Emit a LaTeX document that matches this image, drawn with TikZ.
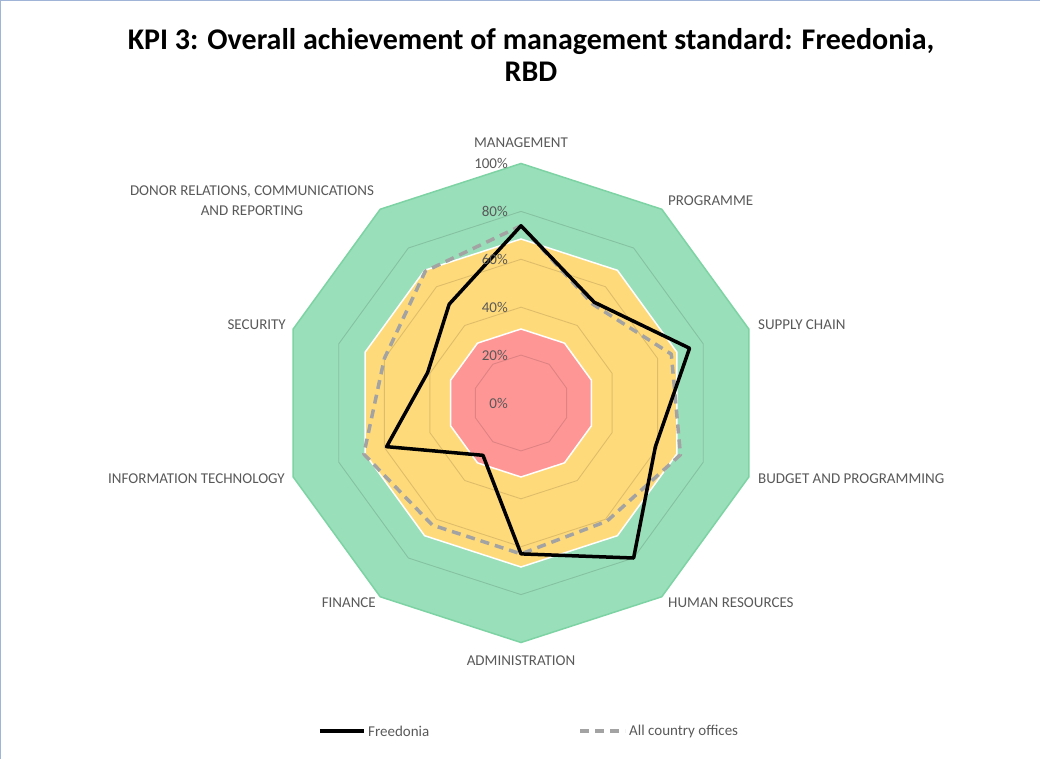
\documentclass[tikz,border=0pt]{standalone}
\usepackage{fontspec}
\setmainfont{Carlito}
\definecolor{zonegreen}{RGB}{153,223,186}
\definecolor{zonegreenline}{RGB}{125,211,163}
\definecolor{zoneyellow}{RGB}{255,218,122}
\definecolor{zonepink}{RGB}{255,150,150}
\definecolor{labelgray}{RGB}{89,89,89}
\definecolor{avggray}{RGB}{163,163,163}
\definecolor{framecol}{RGB}{160,180,215}
\tikzset{
	axislabel/.style={text=labelgray, font=\fontsize{15}{20}\selectfont, inner sep=0pt, align=center},
	gridring/.style={draw=black, draw opacity=0.13, line width=0.9pt},
	kpiline/.style={draw=black, line width=3.5pt, line join=round},
	avgline/.style={draw=avggray, line width=3.5pt, dash pattern=on 9pt off 6pt, line join=round},
	frameline/.style={draw=framecol, line width=1pt}
}
\begin{document}
\begin{tikzpicture}[x=1pt, y=1pt]
	\useasboundingbox (-521,-356) rectangle (519,403);
	\draw[frameline] (-520.5,-356) -- (-520.5,402.5) -- (519,402.5);

	\filldraw[fill=zonegreen, draw=zonegreenline, line width=1.5pt] (90:239.5) \foreach \k in {1,...,9}{ -- (90-36*\k:239.5)} -- cycle;
	\filldraw[fill=zoneyellow, draw=white, line width=1.5pt] (90:164) \foreach \k in {1,...,9}{ -- (90-36*\k:164)} -- cycle;
	\filldraw[fill=zonepink, draw=white, line width=1.5pt] (90:74) \foreach \k in {1,...,9}{ -- (90-36*\k:74)} -- cycle;
	\foreach \r in {47.9,95.8,143.7,191.6}
		\draw[gridring] (90:\r) \foreach \k in {1,...,9}{ -- (90-36*\k:\r)} -- cycle;

	\foreach \k/\v in {0/74,1/52,2/74,3/59,4/80,5/63,6/27,7/59,8/41,9/51}
		\coordinate (f\k) at (90-36*\k:2.395*\v);
	\foreach \k/\v in {0/74,1/51,2/66,3/70,4/61,5/63,6/63,7/69,8/60,9/68}
		\coordinate (a\k) at (90-36*\k:2.395*\v);

	\draw[avgline] (a0) -- (a1) -- (a2) -- (a3) -- (a4) -- (a5) -- (a6) -- (a7) -- (a8) -- (a9) -- cycle;
	\draw[kpiline] (f0) -- (f1) -- (f2) -- (f3) -- (f4) -- (f5) -- (f6) -- (f7) -- (f8) -- (f9) -- cycle;

	\foreach \p in {0,20,...,100}
		\node[axislabel, anchor=east] (pct\p) at (-13,2.395*\p) {\p\%};

	\node[axislabel] (management) at (0,260) {MANAGEMENT};
	\node[axislabel, anchor=west] (programme) at (147,202) {PROGRAMME};
	\node[axislabel, anchor=west] (supply) at (237,78) {SUPPLY CHAIN};
	\node[axislabel, anchor=west] (budget) at (237,-76) {BUDGET AND PROGRAMMING};
	\node[axislabel, anchor=west] (hr) at (147,-200) {HUMAN RESOURCES};
	\node[axislabel] (admin) at (0,-258) {ADMINISTRATION};
	\node[axislabel, anchor=east] (finance) at (-145,-200) {FINANCE};
	\node[axislabel, anchor=east] (it) at (-236,-76) {INFORMATION TECHNOLOGY};
	\node[axislabel, anchor=east] (security) at (-235,78) {SECURITY};
	\node[axislabel] (donor) at (-269,202) {DONOR RELATIONS, COMMUNICATIONS\\AND REPORTING};

	\node[align=center, inner sep=0pt, font=\bfseries\fontsize{30}{32}\selectfont] (title) at (10,348) {KPI 3: Overall achievement of management standard: Freedonia,\\RBD};

	\node[axislabel, anchor=west] (kpitext) at (-153,-328) {Freedonia};
	\coordinate (kpistart) at (-201,-328);
	\draw[kpiline] (kpistart) -- ([xshift=-4pt]kpitext.west);
	\node[axislabel, anchor=west] (avgtext) at (108,-328) {All country offices};
	\coordinate (avgstart) at (59,-328);
	\draw[avgline] (avgstart) -- ([xshift=-4pt]avgtext.west);
\end{tikzpicture}
\end{document}
